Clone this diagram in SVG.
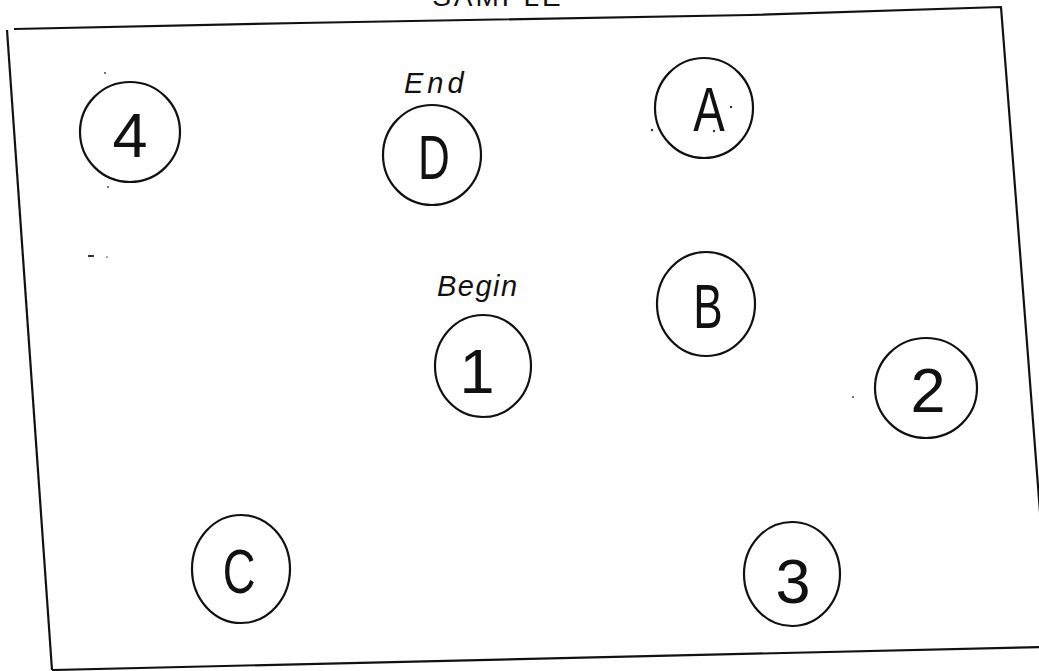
<svg xmlns="http://www.w3.org/2000/svg" width="1039" height="671" viewBox="0 0 1039 671">
  <style>
    .frame { fill: none; stroke: #111; stroke-width: 2.2; stroke-linejoin: round; }
    .ring { fill: none; stroke: #111; stroke-width: 2.2; }
    .glyph { font-family: "Liberation Sans", Arial, sans-serif; font-size: 63px; fill: #111; text-anchor: middle; }
    .note { font-family: "Liberation Sans", Arial, sans-serif; font-style: italic; font-size: 29px; fill: #111; }
    .title { font-family: "Liberation Sans", Arial, sans-serif; font-size: 28px; fill: #111; letter-spacing: 3px; text-anchor: middle; }
    .speck { fill: #333; }
  </style>
  <rect width="1039" height="671" fill="#fff"/>

  <!-- sheet title, clipped at the top edge -->
  <text class="title" x="498" y="6">SAMPLE</text>

  <!-- slightly skewed border of the sheet -->
  <g id="border">
    <polyline class="frame" points="14,29 300,23 750,15 1001,7 1016,200 1041,525"/>
    <line class="frame" x1="7" y1="30" x2="52" y2="670"/>
    <line class="frame" x1="52" y1="670" x2="1041" y2="647"/>
  </g>

  <g id="node-4">
    <circle class="ring" cx="130" cy="132" r="50"/>
    <text class="glyph" x="130" y="157">4</text>
  </g>

  <g id="node-D">
    <text class="note" x="404" y="93" letter-spacing="4">End</text>
    <ellipse class="ring" cx="432" cy="155" rx="49" ry="50"/>
    <text class="glyph" transform="translate(434,179) scale(0.7,1)">D</text>
  </g>

  <g id="node-A">
    <ellipse class="ring" cx="704" cy="108" rx="49" ry="50"/>
    <text class="glyph" transform="translate(709,131) scale(0.75,1)">A</text>
  </g>

  <g id="node-B">
    <ellipse class="ring" cx="706" cy="304" rx="49" ry="52"/>
    <text class="glyph" transform="translate(708,328) scale(0.7,1)">B</text>
  </g>

  <g id="node-1">
    <text class="note" x="437" y="296" letter-spacing="1.5">Begin</text>
    <ellipse class="ring" cx="483" cy="366" rx="48" ry="51"/>
    <text class="glyph" x="477" y="393">1</text>
  </g>

  <g id="node-2">
    <ellipse class="ring" cx="926" cy="388" rx="51" ry="50"/>
    <text class="glyph" x="928" y="412">2</text>
  </g>

  <g id="node-C">
    <ellipse class="ring" cx="241" cy="569" rx="49" ry="54"/>
    <text class="glyph" transform="translate(239,593) scale(0.72,1)">C</text>
  </g>

  <g id="node-3">
    <ellipse class="ring" cx="792" cy="574" rx="48" ry="52"/>
    <text class="glyph" x="793" y="603">3</text>
  </g>

  <!-- stray marks on the sheet -->
  <g id="specks">
    <circle class="speck" cx="105" cy="73" r="0.9"/>
    <circle class="speck" cx="108" cy="187" r="0.9"/>
    <rect class="speck" x="88" y="255" width="6" height="2"/>
    <circle class="speck" cx="107" cy="257" r="0.8"/>
    <circle class="speck" cx="652" cy="130" r="1.2"/>
    <circle class="speck" cx="731" cy="107" r="1.2"/>
    <circle class="speck" cx="714" cy="131" r="1.2"/>
    <circle class="speck" cx="853" cy="397" r="0.9"/>
  </g>
</svg>
